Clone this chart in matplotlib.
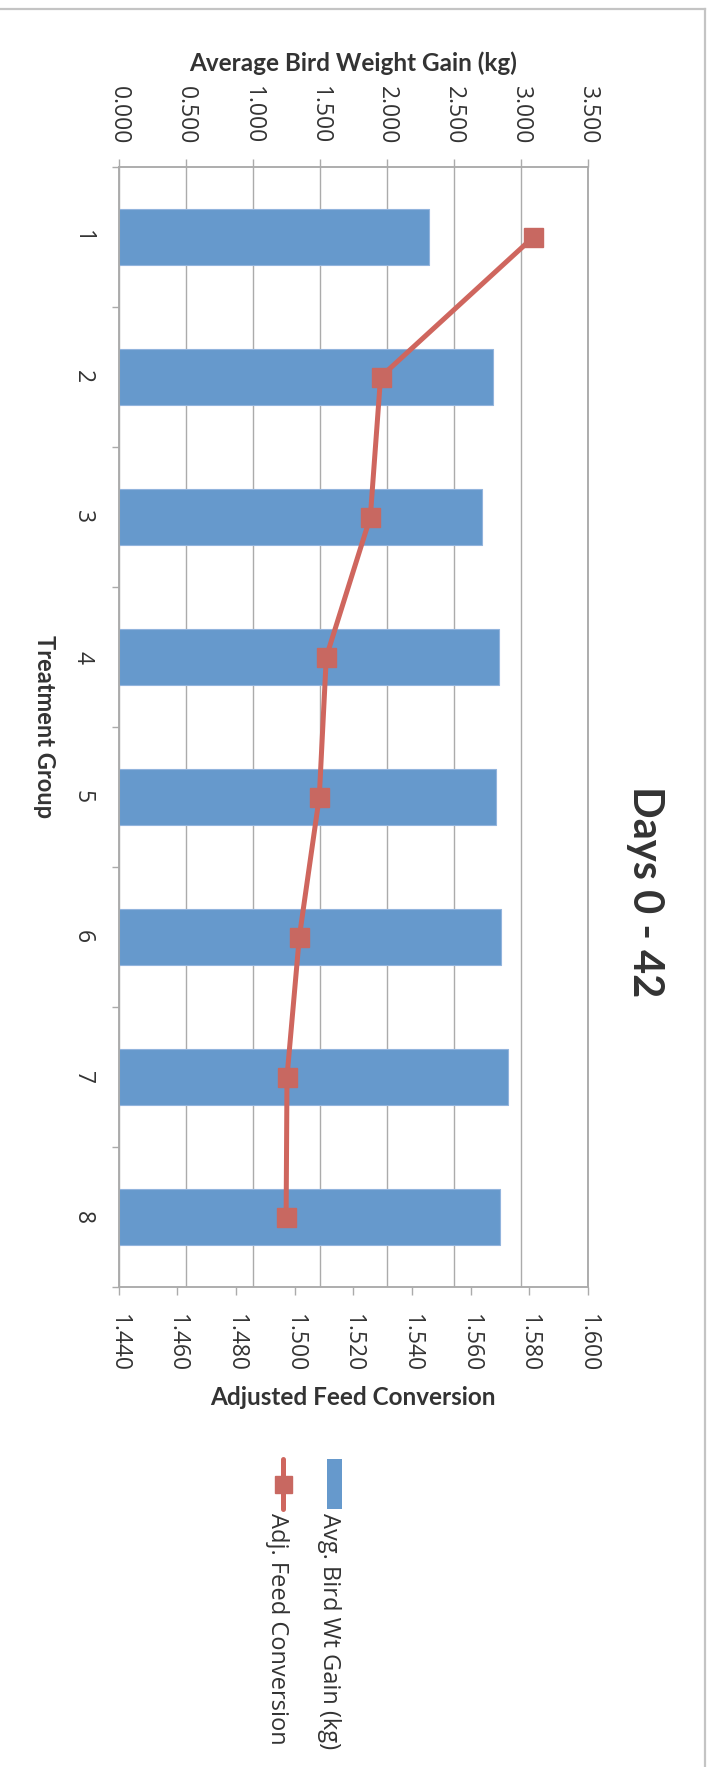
import numpy as np
import matplotlib
matplotlib.use('Agg')
import matplotlib.pyplot as plt
from matplotlib.patches import Rectangle
from matplotlib.lines import Line2D

# Days 0 - 42 results per treatment group
groups = [1, 2, 3, 4, 5, 6, 7, 8]
weight_gain = [2.311, 2.794, 2.708, 2.834, 2.817, 2.849, 2.904, 2.844]
feed_conv = [1.5814, 1.5293, 1.5258, 1.5108, 1.5084, 1.5016, 1.4974, 1.4971]
weight_ticks = [0.0, 0.5, 1.0, 1.5, 2.0, 2.5, 3.0, 3.5]
feed_ticks = [1.44, 1.46, 1.48, 1.50, 1.52, 1.54, 1.56, 1.58, 1.60]

plt.rcParams['font.family'] = ['Open Sans', 'DejaVu Sans']

W, H = 712, 1767
PT = 0.72  # pixels -> points at dpi 100

BLUE = '#6699CC'
RED = '#CF665E'
GRID = '#ABABAB'
TXT = '#333333'
BOLD = ['Lato', 'DejaVu Sans']


def fx(px):
    return px / W


def fy(py):
    return 1 - py / H


fig = plt.figure(figsize=(W / 100, H / 100), dpi=100)

# plot area
left, right, top, bottom = 118.6, 588.0, 167.0, 1287.0
ax = fig.add_axes([fx(left), fy(bottom), fx(right - left), (bottom - top) / H])
ax2 = ax.twiny()

ax.barh(groups, weight_gain, height=0.4, color=BLUE, edgecolor='#92B4DD',
        linewidth=0.8, zorder=2)
ax.set_xlim(0, 3.5)
ax.set_ylim(8.5, 0.5)
ax.set_xticks(weight_ticks)
ax.set_xticklabels([f'{t:.3f}' for t in weight_ticks])
ax.grid(axis='x', color=GRID, linewidth=1.0)
ax.set_axisbelow(True)

ax.xaxis.set_ticks_position('top')
ax.xaxis.set_label_position('top')
ax.tick_params(axis='x', which='both', top=True, bottom=False, labeltop=True,
               labelbottom=False, direction='out', length=8 * PT, width=1.0,
               color=GRID, labelrotation=-90, pad=15 * PT, labelsize=16.5,
               labelcolor=TXT)

# category axis: ticks between groups, labels at group centres
ax.set_yticks(np.arange(0.5, 9.0, 1.0))
ax.set_yticklabels([])
ax.set_yticks(groups, minor=True)
ax.set_yticklabels([str(g) for g in groups], minor=True)
ax.tick_params(axis='y', which='major', direction='out', length=7 * PT,
               width=1.0, color=GRID)
ax.tick_params(axis='y', which='minor', length=0, pad=24 * PT,
               labelrotation=-90, labelsize=16.5, labelcolor=TXT)
for lbl in ax.get_yticklabels(minor=True):
    lbl.set_va('center')

for s in ax.spines.values():
    s.set_color(GRID)
    s.set_linewidth(1.1)

# secondary axis for feed conversion
ax2.plot(feed_conv, groups, color=RED, linewidth=5 * PT, marker='s',
         markersize=19 * PT, markerfacecolor='#C86861', markeredgecolor='#C86861',
         solid_joinstyle='round', zorder=3)
ax2.set_xlim(1.44, 1.60)
ax2.set_xticks(feed_ticks)
ax2.set_xticklabels([f'{t:.3f}' for t in feed_ticks])
ax2.xaxis.set_ticks_position('bottom')
ax2.tick_params(axis='x', direction='out', length=8 * PT, width=1.0, color=GRID,
                labelrotation=-90, pad=19 * PT, labelsize=16.5, labelcolor=TXT)
for s in ax2.spines.values():
    s.set_color(GRID)
    s.set_linewidth(1.1)

# titles
cx = (left + right) / 2
fig.text(fx(cx), fy(63), 'Average Bird Weight Gain (kg)', ha='center', va='center',
         fontsize=17.5, fontweight='bold', color=TXT, family=BOLD)
fig.text(fx(cx), fy(1397), 'Adjusted Feed Conversion', ha='center', va='center',
         fontsize=17.5, fontweight='bold', color=TXT, family=BOLD)
fig.text(fx(44), fy(727), 'Treatment Group', ha='center', va='center', rotation=-90,
         fontsize=17, fontweight='bold', color=TXT, family=BOLD)
fig.text(fx(645), fy(892), 'Days 0 - 42', ha='center', va='center', rotation=-90,
         fontsize=30, fontweight='bold', color=TXT, family=BOLD)

# legend
fig.add_artist(Rectangle((fx(327), fy(1509)), fx(15), 50 / H, transform=fig.transFigure,
                         facecolor=BLUE, edgecolor='none'))
fig.text(fx(329), fy(1513), 'Avg. Bird Wt Gain (kg)', ha='center', va='top', rotation=-90,
         fontsize=17, color=TXT)
fig.add_artist(Line2D([fx(283), fx(283)], [fy(1459), fy(1509)], transform=fig.transFigure,
                      color=RED, linewidth=5 * PT, solid_capstyle='round'))
fig.add_artist(Line2D([fx(283)], [fy(1484)], transform=fig.transFigure, marker='s',
                      markersize=17 * PT, color='#C86861', linestyle='none'))
fig.text(fx(277), fy(1513), 'Adj. Feed Conversion', ha='center', va='top', rotation=-90,
         fontsize=17, color=TXT)

# chart frame
fig.add_artist(Line2D([0, fx(705)], [fy(9), fy(9)], transform=fig.transFigure,
                      color='#C4C4C4', linewidth=1.6))
fig.add_artist(Line2D([fx(705), fx(705)], [fy(9), 0], transform=fig.transFigure,
                      color='#C4C4C4', linewidth=1.6))

fig.savefig('out.png', dpi=100)
